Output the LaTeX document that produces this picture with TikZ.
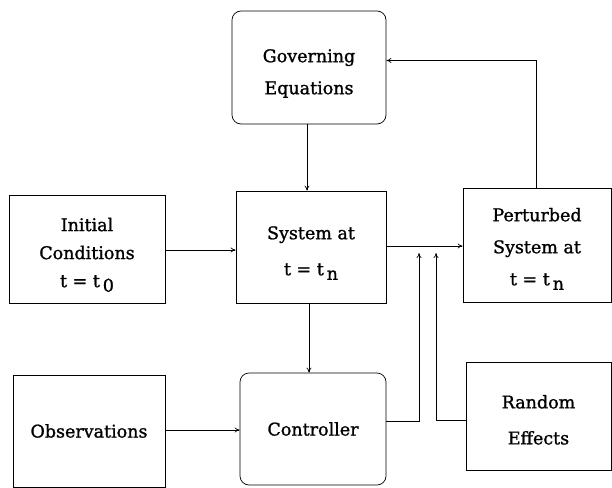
\documentclass[tikz,border=0pt]{standalone}
\usepackage{fontspec}
\setmainfont{DejaVu Serif}
\newfontfamily\blkfont{DejaVu Serif}[FakeBold=1.2]
\usetikzlibrary{calc}
\usetikzlibrary{shapes}
\usetikzlibrary{arrows.meta}

\tikzset{
  blk/.style={draw,line width=.7pt,align=center,inner sep=0pt,
    font=\blkfont\fontsize{17.5}{32}\selectfont},
  rblk/.style={blk,rounded corners=9pt},
  conn/.style={line width=.7pt,-{To[length=5pt,width=5pt]}}
}
\newcommand{\tsub}[1]{t = t\,\raisebox{-.5ex}{#1}}
\newcommand{\dn}[1]{\rule{0pt}{#1}}

\begin{document}
\begin{tikzpicture}[x=1pt,y=-1pt]
\useasboundingbox (0,0) rectangle (612,487);

\node[rblk,minimum width=154pt,minimum height=113pt] (gov) at (309,67.5) {\dn{25pt}Governing\\Equations};
\node[blk,minimum width=150pt,minimum height=112pt] (sys) at (311,247) {\dn{25pt}System at\\[4pt]\tsub{n}};
\node[blk,minimum width=156pt,minimum height=108pt] (init) at (87,249) {\dn{25pt}Initial\\[-4pt]Conditions\\[-4pt]\tsub{0}};
\node[blk,minimum width=148pt,minimum height=114pt] (pert) at (537,245) {\dn{21pt}Perturbed\\System at\\\tsub{n}};
\node[rblk,minimum width=146pt,minimum height=112pt] (ctrl) at (313,429) {Controller};
\node[blk,minimum width=152pt,minimum height=112pt] (obs) at (89,431) {Observations};
\node[blk,minimum width=145pt,minimum height=108pt] (rand) at (538.5,416) {\dn{21pt}Random\\[4pt]Effects};

\coordinate (ca) at (419,253);
\coordinate (ra) at (436,253);

\draw[conn] (gov.south -| 307,0) -- (sys.north -| 307,0);
\draw[conn] (init.east |- 0,250) -- (sys.west |- 0,250);
\draw[conn] (sys.east |- 0,246) -- (pert.west |- 0,246);
\draw[conn] (pert.north -| 536,0) |- ([yshift=7pt]gov.east);
\draw[conn] (sys.south -| 309,0) -- (ctrl.north -| 309,0);
\draw[conn] (obs.east |- 0,430) -- (ctrl.west |- 0,430);
\draw[conn] (ctrl.east |- 0,421) -| (ca);
\draw[conn] (rand.west |- 0,420) -| (ra);

\end{tikzpicture}
\end{document}
